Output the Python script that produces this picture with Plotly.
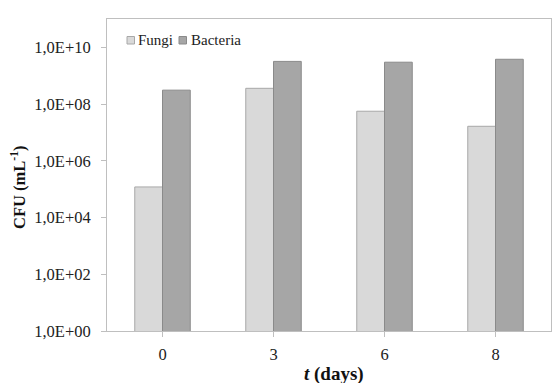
import plotly.graph_objects as go

categories = ["0", "3", "6", "8"]
fungi = [1.2e5, 3.6e8, 5.6e7, 1.65e7]
bacteria = [3.1e8, 3.2e9, 3.0e9, 3.8e9]
tick_vals = [1, 1e2, 1e4, 1e6, 1e8, 1e10]
tick_text = ["1,0E+00", "1,0E+02", "1,0E+04", "1,0E+06", "1,0E+08", "1,0E+10"]

font = "Liberation Serif, Times New Roman, serif"
fungi_color, fungi_line = "#d9d9d9", "#a8a8a8"
bact_color, bact_line = "#a6a6a6", "#8a8a8a"

fig = go.Figure()
fig.add_trace(go.Bar(x=categories, y=fungi, name="Fungi",
                     marker=dict(color=fungi_color, line=dict(color=fungi_line, width=1))))
fig.add_trace(go.Bar(x=categories, y=bacteria, name="Bacteria",
                     marker=dict(color=bact_color, line=dict(color=bact_line, width=1))))

W, H = 552, 383
L, R, T, B = 107, 1, 19, 52
pw, ph = W - L - R, H - T - B

def px(x):
    return (x - L) / pw

def py(y):
    return 1 - (y - T) / ph

fig.update_layout(
    width=W, height=H,
    margin=dict(l=L, r=R, t=T, b=B),
    paper_bgcolor="white", plot_bgcolor="white",
    barmode="group", bargap=0.5, bargroupgap=0,
    font=dict(family=font, size=16, color="#222"),
    showlegend=False,
)
# legend drawn manually (small squares next to text)
legend_items = [("Fungi", fungi_color, fungi_line, 127, 136),
                ("Bacteria", bact_color, bact_line, 179, 189)]
for name, fc, lc, sx, tx in legend_items:
    fig.add_shape(type="rect", xref="paper", yref="paper",
                  x0=px(sx), x1=px(sx + 7.5), y0=py(44), y1=py(36.5),
                  fillcolor=fc, line=dict(color=lc, width=1))
    fig.add_annotation(xref="paper", yref="paper", x=px(tx), y=py(40.5),
                       xanchor="left", yanchor="middle", showarrow=False,
                       text=name, font=dict(family=font, size=15, color="#222"))

# axis titles
fig.add_annotation(xref="paper", yref="paper", x=px(334), y=py(374),
                   xanchor="center", yanchor="middle", showarrow=False,
                   text="<b><i>t</i> (days)</b>", font=dict(family=font, size=19, color="#111"))
fig.add_annotation(xref="paper", yref="paper", x=px(18), y=py(188),
                   xanchor="center", yanchor="middle", showarrow=False, textangle=-90,
                   text="<b>CFU (mL<sup>-1</sup>)</b>", font=dict(family=font, size=16.5, color="#111"))

fig.update_xaxes(
    type="category", showline=True, linecolor="#bfbfbf", linewidth=1, mirror=True,
    ticks="outside", ticklen=5, tickcolor="#bfbfbf", showgrid=False,
    tickfont=dict(family=font, size=16.5, color="#222"), ticklabelstandoff=3,
)
fig.update_yaxes(
    type="log", range=[0, 11], showline=True, linecolor="#bfbfbf", linewidth=1, mirror=True,
    tickvals=tick_vals, ticktext=tick_text, ticks="outside", ticklen=5, tickcolor="#bfbfbf",
    showgrid=False, zeroline=False, ticklabelstandoff=7,
    tickfont=dict(family=font, size=16.5, color="#222"),
)
fig.write_html("out.html")
